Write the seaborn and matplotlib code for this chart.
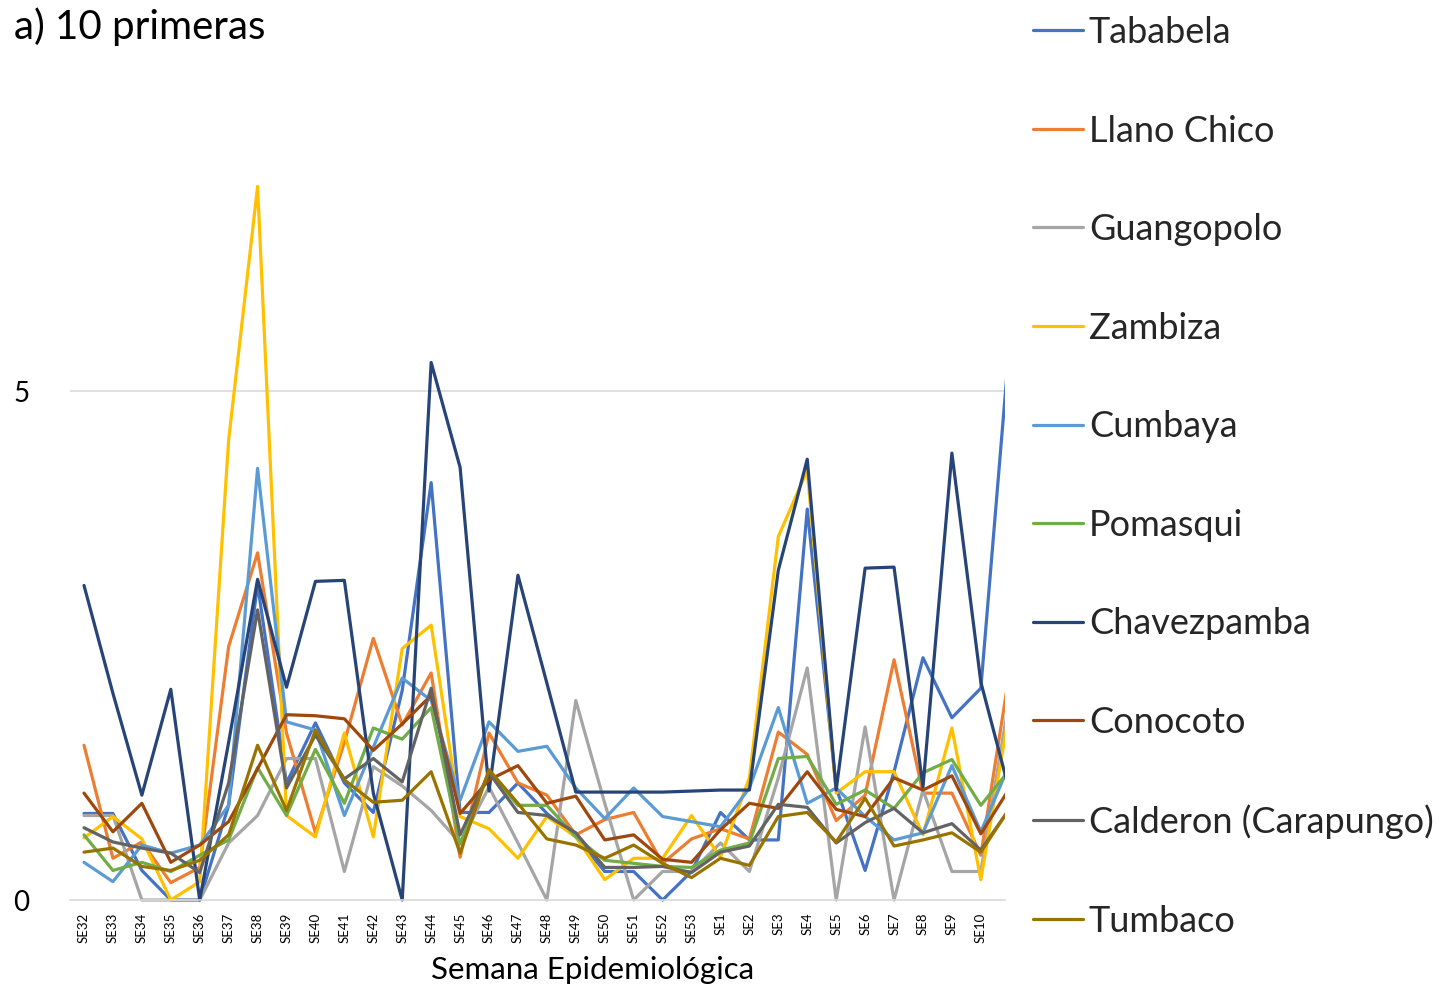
import numpy as np
import pandas as pd
import matplotlib
matplotlib.use("Agg")
import matplotlib.pyplot as plt
import seaborn as sns
from matplotlib.transforms import Bbox, TransformedBbox
from matplotlib.ticker import FixedLocator

semanas = ["SE32", "SE33", "SE34", "SE35", "SE36", "SE37", "SE38", "SE39", "SE40", "SE41",
           "SE42", "SE43", "SE44", "SE45", "SE46", "SE47", "SE48", "SE49", "SE50", "SE51",
           "SE52", "SE53", "SE1", "SE2", "SE3", "SE4", "SE5", "SE6", "SE7", "SE8",
           "SE9", "SE10", "SE11"]

tababela = [0.85, 0.85, 0.29, 0.00, 0.00, 0.93, 3.10, 1.15, 1.74, 1.15,
            0.86, 2.06, 4.10, 0.86, 0.86, 1.15, 0.85, 0.62, 0.28, 0.28,
            0.00, 0.28, 0.86, 0.59, 0.59, 3.84, 1.10, 0.29, 1.26, 2.38,
            1.79, 2.08, 5.50]
llano_chico = [1.52, 0.41, 0.57, 0.17, 0.32, 2.49, 3.41, 1.64, 0.66, 1.55,
               2.57, 1.72, 2.23, 0.42, 1.64, 1.15, 1.03, 0.64, 0.79, 0.86,
               0.36, 0.60, 0.70, 0.60, 1.65, 1.43, 0.78, 1.03, 2.36, 1.05,
               1.05, 0.44, 2.25]
guangopolo = [0.83, 0.83, 0.00, 0.00, 0.00, 0.56, 0.83, 1.39, 1.39, 0.28,
              1.31, 1.12, 0.88, 0.56, 1.11, 0.56, 0.00, 1.96, 0.95, 0.00,
              0.28, 0.28, 0.56, 0.28, 1.20, 2.28, 0.00, 1.70, 0.00, 1.08,
              0.28, 0.28, 2.00]
zambiza = [0.61, 0.82, 0.60, 0.00, 0.18, 4.52, 7.01, 0.83, 0.62, 1.64,
           0.62, 2.47, 2.70, 0.82, 0.70, 0.41, 0.82, 0.62, 0.20, 0.41,
           0.41, 0.83, 0.42, 1.20, 3.57, 4.22, 1.05, 1.26, 1.26, 0.64,
           1.69, 0.20, 1.88]
cumbaya = [0.37, 0.18, 0.54, 0.46, 0.54, 0.93, 4.24, 1.75, 1.67, 0.83,
           1.50, 2.18, 1.96, 0.98, 1.75, 1.46, 1.51, 1.10, 0.80, 1.10,
           0.82, 0.77, 0.72, 1.10, 1.89, 0.95, 1.10, 0.82, 0.59, 0.66,
           1.32, 0.67, 1.34]
pomasqui = [0.64, 0.29, 0.37, 0.28, 0.44, 0.59, 1.30, 0.83, 1.48, 0.95,
            1.69, 1.58, 1.89, 0.55, 1.25, 0.93, 0.93, 0.62, 0.39, 0.36,
            0.33, 0.32, 0.49, 0.56, 1.39, 1.41, 0.94, 1.08, 0.90, 1.25,
            1.38, 0.93, 1.28]
chavezpamba = [3.09, 2.03, 1.03, 2.07, 0.00, 1.55, 3.15, 2.09, 3.13, 3.14,
               1.05, 0.00, 5.28, 4.25, 1.07, 3.19, 2.13, 1.06, 1.06, 1.06,
               1.06, 1.07, 1.08, 1.08, 3.24, 4.33, 1.08, 3.26, 3.27, 1.11,
               4.39, 2.14, 1.06]
conocoto = [1.05, 0.67, 0.95, 0.37, 0.54, 0.77, 1.29, 1.82, 1.81, 1.78,
            1.47, 1.73, 2.01, 0.85, 1.18, 1.32, 0.95, 1.02, 0.59, 0.64,
            0.40, 0.37, 0.69, 0.95, 0.90, 1.26, 0.89, 0.82, 1.20, 1.08,
            1.22, 0.65, 1.10]
calderon = [0.71, 0.57, 0.51, 0.46, 0.27, 1.15, 2.85, 1.10, 1.62, 1.19,
            1.39, 1.16, 2.08, 0.64, 1.25, 0.86, 0.83, 0.66, 0.32, 0.32,
            0.33, 0.27, 0.47, 0.53, 0.94, 0.91, 0.56, 0.76, 0.90, 0.66,
            0.75, 0.49, 0.90]
tumbaco = [0.47, 0.51, 0.33, 0.29, 0.39, 0.64, 1.52, 0.88, 1.67, 1.18,
           0.96, 0.98, 1.26, 0.46, 1.28, 0.95, 0.60, 0.54, 0.41, 0.54,
           0.36, 0.22, 0.41, 0.34, 0.82, 0.86, 0.57, 1.00, 0.53, 0.59,
           0.66, 0.47, 0.90]

parroquias = ["Tababela", "Llano Chico", "Guangopolo", "Zambiza", "Cumbaya",
              "Pomasqui", "Chavezpamba", "Conocoto", "Calderon (Carapungo)", "Tumbaco"]
series = [tababela, llano_chico, guangopolo, zambiza, cumbaya,
          pomasqui, chavezpamba, conocoto, calderon, tumbaco]
colores = ["#4472C4", "#ED7D31", "#A5A5A5", "#FFC000", "#5B9BD5",
           "#70AD47", "#264478", "#9E480E", "#636363", "#997300"]

rows = []
for name, vals in zip(parroquias, series):
    for i, (sem, v) in enumerate(zip(semanas, vals)):
        rows.append({"idx": i, "semana": sem, "parroquia": name, "valor": v})
df = pd.DataFrame(rows)

sns.set_theme(style="white")
FONT = ["Lato", "DejaVu Sans"]
plt.rcParams["font.family"] = FONT

W, H = 1444, 988
fig = plt.figure(figsize=(W / 100, H / 100), dpi=100)
ax_left, ax_right, ax_bottom, ax_top = 70, 1005, 900, 40
ax = fig.add_axes([ax_left / W, 1 - ax_bottom / H,
                   (ax_right - ax_left) / W, (ax_bottom - ax_top) / H])

sns.lineplot(data=df, x="idx", y="valor", hue="parroquia", hue_order=parroquias,
             palette=colores, linewidth=2.3, estimator=None, sort=False,
             legend=True, ax=ax)

ax.set_yticks([0, 5])
ax.set_yticklabels(["0", "5"], fontsize=20, color="#000000")
ax.tick_params(axis="y", length=0, pad=29)
ax.axhline(5, color="#D9D9D9", linewidth=1.2, zorder=0)

ax.set_xticks(range(len(semanas)))
ax.set_xticklabels(semanas, rotation=90, fontsize=9.5, color="#000000")
ax.tick_params(axis="x", which="major", length=0, pad=9)
ax.xaxis.set_minor_locator(FixedLocator(np.arange(-0.5, len(semanas), 1.0)))
ax.tick_params(axis="x", which="minor", length=6, width=1.2, color="#D9D9D9",
               direction="out")

px_per_unit = 101.8
ymax = (ax_bottom - ax_top) / px_per_unit
step = 28.93
x0 = -(84 - ax_left) / step
x1 = (ax_right - 84) / step
ax.set_xlim(x0, x1)
ax.set_ylim(0, ymax)

# let lines at zero show fully (as in the original)
clip = TransformedBbox(Bbox([[x0, -0.08], [x1, ymax]]), ax.transData)
for ln in ax.lines:
    ln.set_clip_box(clip)

for s in ["top", "right", "left"]:
    ax.spines[s].set_visible(False)
ax.spines["bottom"].set_color("#D9D9D9")
ax.spines["bottom"].set_linewidth(1.2)

ax.set_xlabel("")
ax.set_ylabel("")

fig.text(593 / W, 1 - 970 / H, "Semana Epidemiológica", ha="center", va="center",
         fontsize=22.5, color="#000000")
fig.text(14 / W, 1 - 7 / H, "a) 10 primeras", ha="left", va="top",
         fontsize=29, color="#000000")

handles, labels = ax.get_legend_handles_labels()
ax.get_legend().remove()
for h in handles:
    h.set_linewidth(2.3)
fig.legend(handles, labels, loc="upper left", bbox_to_anchor=(1033 / W, 1 - 16 / H),
           frameon=False, fontsize=26, handlelength=1.39, handletextpad=0.16,
           labelspacing=1.815, borderaxespad=0, borderpad=0)

fig.savefig("out.png", dpi=100)
